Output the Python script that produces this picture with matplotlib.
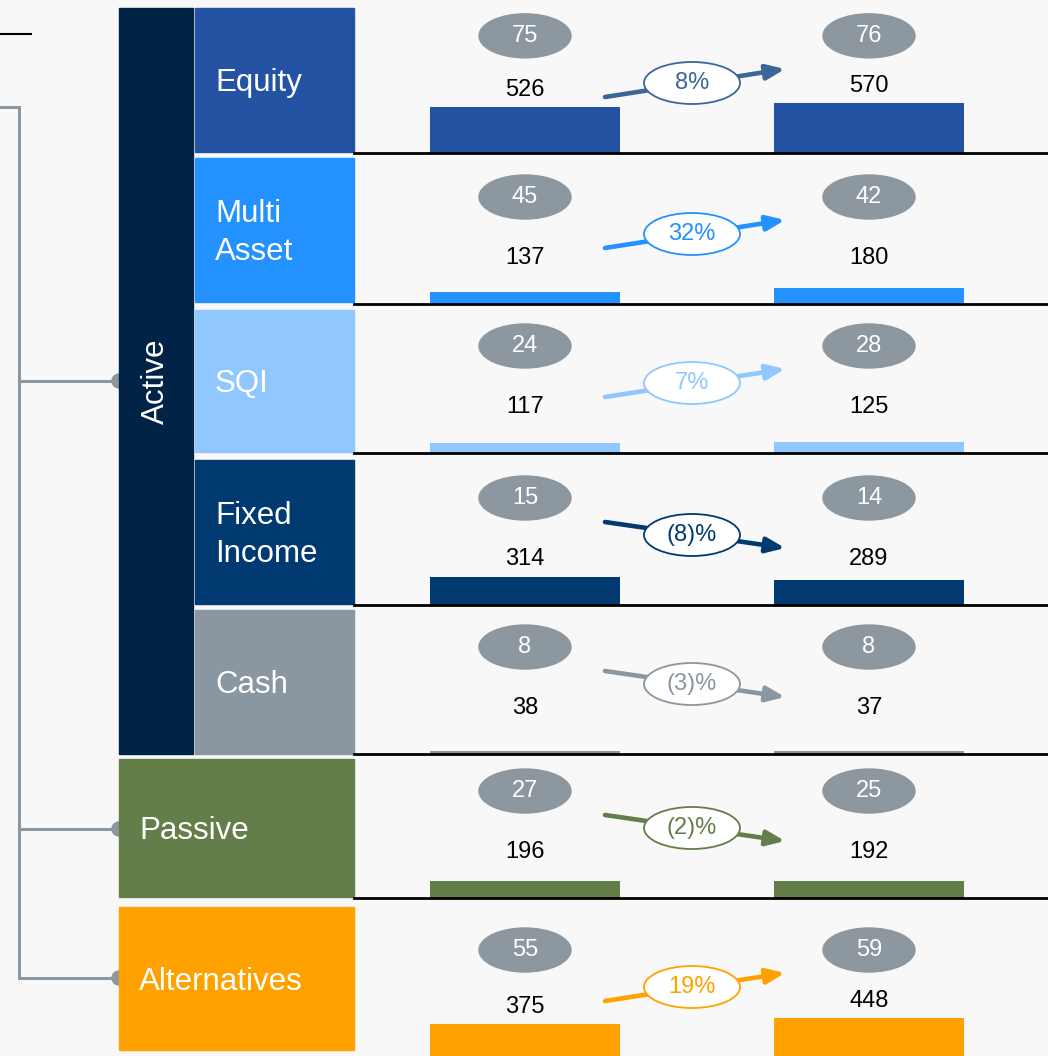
import matplotlib.pyplot as plt
from matplotlib.patches import Rectangle, Ellipse, Circle

plt.rcParams['font.family'] = ['Liberation Sans', 'DejaVu Sans']

# data
rows = ["Equity", "Multi\nAsset", "SQI", "Fixed\nIncome", "Cash", "Passive", "Alternatives"]
aum_before = [526, 137, 117, 314, 38, 196, 375]
aum_after = [570, 180, 125, 289, 37, 192, 448]
count_before = [75, 45, 24, 15, 8, 27, 55]
count_after = [76, 42, 28, 14, 8, 25, 59]
growth = ["8%", "32%", "7%", "(8)%", "(3)%", "(2)%", "19%"]
row_colors = ["#2553A3", "#2391FF", "#91C7FF", "#003A70", "#8A96A0", "#637E48", "#FFA200"]
arrow_colors = ["#3B6698", "#2391FF", "#91C7FF", "#003A70", "#8A96A0", "#637E48", "#FFA200"]

# layout in pixels
W, H = 1048, 1056
K = 0.088  # pixels per unit of AUM
GRAY = "#8C979F"
NAVY = "#002346"
BG = "#F8F8F8"
baselines = [153, 304, 453, 605, 754, 898, 1057]
box_spans = [(8, 152), (158, 302), (310, 452), (460, 604), (610, 754), (759, 897), (907, 1050)]

fig = plt.figure(figsize=(W / 100, H / 100), dpi=100, facecolor=BG)
ax0 = fig.add_axes((0, 0, 1, 1))
ax0.set_xlim(0, W)
ax0.set_ylim(H, 0)
ax0.axis('off')

# bracket on the left
ax0.plot([0, 31], [34, 34], color='black', lw=1.5)
ax0.plot([0, 19, 19], [107, 107, 978], color=GRAY, lw=2.2, solid_joinstyle='miter')
for yc in [381, 829, 978]:
    ax0.plot([19, 119], [yc, yc], color=GRAY, lw=2.2)
    ax0.add_patch(Circle((119, yc), 7, color=GRAY, zorder=1))

# category boxes
ax0.add_patch(Rectangle((119, 8), 74, 746, color=NAVY, zorder=2))
ax0.text(156, 381, "Active", rotation=90, color='white', fontsize=22.5,
         ha='center', va='center', zorder=3)
for i, (name, (t, b)) in enumerate(zip(rows, box_spans)):
    x0 = 195 if i < 5 else 119
    ax0.add_patch(Rectangle((x0, t), 354 - x0, b - t, color=row_colors[i], zorder=2))
    ax0.text(x0 + 20, (t + b) / 2 + 3, name, color='white', fontsize=22.5,
             ha='left', va='center', linespacing=1.35, zorder=3)

# one axes per row for bars
for i in range(len(rows)):
    base = baselines[i]
    top = baselines[i - 1] if i > 0 else 0
    ax = fig.add_axes((354 / W, (H - base) / H, (W - 354) / W, (base - top) / H))
    ax.set_xlim(354, W)
    ax.set_ylim(0, (base - top) / K)
    ax.axis('off')
    c = row_colors[i]
    ac = arrow_colors[i]
    vals = [aum_before[i], aum_after[i]]
    xs = [525, 869]
    ax.bar(xs, vals, width=190, color=c, zorder=2)
    if i < len(rows) - 1:
        ax.axhline(0, color='black', lw=2.0, zorder=3, clip_on=False)

    val_y = [max(46 / K, v + 17 / K) for v in vals]
    ell_y = max(107 / K, max(val_y) + 50 / K)
    for x, v, vy, n in zip(xs, vals, val_y, [count_before[i], count_after[i]]):
        ax.text(x, vy, str(v), fontsize=17, ha='center', va='center', color='black')
        ax.add_patch(Ellipse((x, ell_y), 92, 44 / K, color=GRAY, zorder=2))
        ax.text(x, ell_y, str(n), fontsize=17, ha='center', va='center', color='white', zorder=3)

    mid = 70 / K
    d = (14 if vals[1] >= vals[0] else -13) / K
    ax.annotate('', xy=(785, mid + d), xytext=(605, mid - d),
                arrowprops=dict(arrowstyle='-|>,head_length=1.1,head_width=0.45',
                                lw=3.3, color=ac, shrinkA=0, shrinkB=0,
                                mutation_scale=10), zorder=3)
    ax.add_patch(Ellipse((692, mid), 96, 42 / K, facecolor='white', edgecolor=ac,
                         lw=1.3, zorder=4))
    ax.text(692, mid, growth[i], fontsize=17, ha='center', va='center', color=ac, zorder=5)

fig.savefig('out.png', dpi=100, facecolor=BG)
